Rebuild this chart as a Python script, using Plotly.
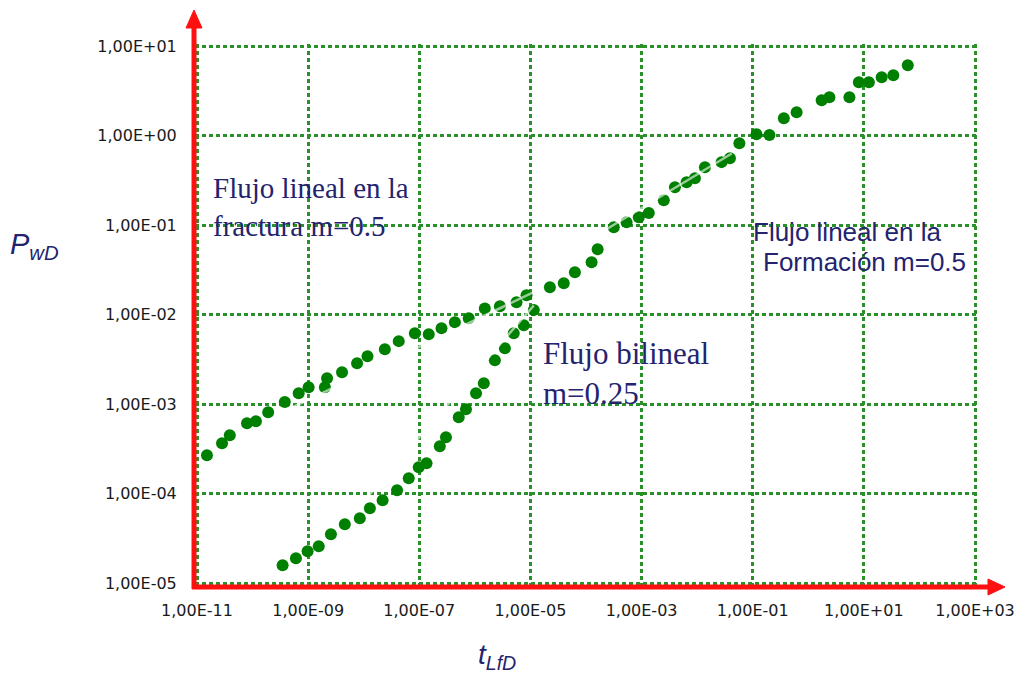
import plotly.graph_objects as go

# --- data -------------------------------------------------------------
# Linear flow in the fracture (early branch)
frac_t = [1.51e-11, 2.82e-11, 3.89e-11, 7.94e-11, 1.15e-10, 1.91e-10, 3.80e-10,
          6.76e-10, 1.02e-9, 2.00e-9, 2.19e-9, 4.07e-9, 7.59e-9, 1.17e-8, 2.40e-8,
          4.27e-8, 8.32e-8, 1.48e-7, 2.51e-7, 4.37e-7, 7.76e-7, 1.51e-6, 2.82e-6,
          5.62e-6, 8.51e-6]
frac_p = [2.68e-4, 3.65e-4, 4.48e-4, 6.10e-4, 6.43e-4, 8.09e-4, 1.05e-3,
          1.32e-3, 1.54e-3, 1.54e-3, 1.94e-3, 2.26e-3, 2.86e-3, 3.42e-3, 4.09e-3,
          5.04e-3, 6.18e-3, 6.03e-3, 7.03e-3, 8.20e-3, 9.08e-3, 1.17e-2, 1.24e-2,
          1.37e-2, 1.64e-2]

# Bilinear flow branch
bil_t = [3.47e-10, 6.03e-10, 9.77e-10, 1.55e-9, 2.57e-9, 4.57e-9, 8.51e-9,
         1.29e-8, 2.19e-8, 3.98e-8, 6.46e-8, 9.77e-8, 1.35e-7, 2.34e-7, 3.02e-7,
         5.13e-7, 6.92e-7, 1.05e-6, 1.45e-6, 2.29e-6, 3.47e-6, 5.01e-6, 7.59e-6,
         1.15e-5]
bil_p = [1.58e-5, 1.89e-5, 2.26e-5, 2.58e-5, 3.51e-5, 4.54e-5, 5.30e-5,
         6.85e-5, 8.41e-5, 1.09e-4, 1.48e-4, 1.97e-4, 2.18e-4, 3.37e-4, 4.26e-4,
         7.11e-4, 8.75e-4, 1.32e-3, 1.71e-3, 3.08e-3, 4.20e-3, 6.18e-3, 7.59e-3,
         1.12e-2]

# Linear flow in the formation (late branch)
form_t = [2.24e-5, 3.98e-5, 6.31e-5, 1.26e-4, 1.62e-4, 3.16e-4, 5.37e-4,
          8.91e-4, 1.35e-3, 2.51e-3, 3.98e-3, 6.46e-3, 9.12e-3, 1.38e-2, 2.75e-2,
          3.89e-2, 5.75e-2, 0.117, 0.200, 0.363, 0.617, 1.74, 2.40, 5.50, 8.13,
          12.3, 20.9, 33.9, 61.7]
form_p = [2.02e-2, 2.24e-2, 2.97e-2, 3.84e-2, 5.37e-2, 9.44e-2, 0.107,
          0.122, 0.136, 0.189, 0.264, 0.301, 0.333, 0.443, 0.504,
          0.557, 0.820, 1.03, 1.01, 1.56, 1.82, 2.48, 2.68, 2.68, 3.94,
          3.94, 4.48, 4.72, 6.10]

# Straight-line fits drawn over each flow regime
fit_frac_t = [2.75e-10, 1.07e-5]
fit_frac_p = [7.6e-4, 1.74e-2]
fit_bil_t = [9.3e-9, 1.15e-5]
fit_bil_p = [7.8e-5, 1.26e-2]
fit_form_t = [1.9e-4, 4.2e-2]
fit_form_p = [8.3e-2, 0.63]

x_ticks = [1e-11, 1e-9, 1e-7, 1e-5, 1e-3, 1e-1, 1e1, 1e3]
x_tick_labels = ["1,00E-11", "1,00E-09", "1,00E-07", "1,00E-05",
                 "1,00E-03", "1,00E-01", "1,00E+01", "1,00E+03"]
y_ticks = [1e-5, 1e-4, 1e-3, 1e-2, 1e-1, 1e0, 1e1]
y_tick_labels = ["1,00E-05", "1,00E-04", "1,00E-03", "1,00E-02",
                 "1,00E-01", "1,00E+00", "1,00E+01"]

# --- styling ----------------------------------------------------------
DOT = "#008000"
GRID = "#2a902a"
AXIS_RED = "#ff1010"
NAVY = "#23236e"
TICK_FONT = dict(family="DejaVu Sans", size=16, color="#1a1a1a")

fig = go.Figure()

for xs, ys in [(frac_t, frac_p), (bil_t, bil_p), (form_t, form_p)]:
    fig.add_trace(go.Scatter(
        x=xs, y=ys, mode="markers",
        marker=dict(size=12, color=DOT, line=dict(width=0)),
        showlegend=False, hoverinfo="skip"))

for xs, ys in [(fit_frac_t, fit_frac_p), (fit_bil_t, fit_bil_p), (fit_form_t, fit_form_p)]:
    fig.add_trace(go.Scatter(
        x=xs, y=ys, mode="lines",
        line=dict(color="rgba(255,255,255,0.6)", width=2.5),
        showlegend=False, hoverinfo="skip"))

# Plot area: 1e-11..1e3 spans x 197..975, 1e-5..1e1 spans y 583..46;
# a 2 px pad on every side keeps the edge gridlines inside the range.
W, H = 1015, 675
L, R, T, B = 195, 38, 44, 90
PW, PH = W - L - R, H - T - B
PAD_X = 2 / ((975 - 197) / 14)
PAD_Y = 2 / ((583 - 46) / 6)

axis_common = dict(
    type="log", showgrid=True, gridcolor=GRID, gridwidth=2.5, griddash="4px,3px",
    zeroline=False, showline=False, ticks="outside", automargin=False,
    tickcolor="rgba(0,0,0,0)", tickfont=TICK_FONT,
)

fig.update_layout(
    width=W, height=H,
    margin=dict(l=L, r=R, t=T, b=B, pad=0, autoexpand=False),
    paper_bgcolor="white", plot_bgcolor="white",
    xaxis=dict(range=[-11 - PAD_X, 3 + PAD_X], tickvals=x_ticks,
               ticktext=x_tick_labels, ticklen=11, **axis_common),
    yaxis=dict(range=[-5 - PAD_Y, 1 + PAD_Y], tickvals=y_ticks,
               ticktext=y_tick_labels, ticklen=14, **axis_common),
)

# Red axes with arrowheads (pixel offsets from the plot's lower-left corner)
def px_shape(path, **kw):
    return dict(type="path", xref="paper", yref="paper",
                xsizemode="pixel", ysizemode="pixel", xanchor=0, yanchor=0,
                path=path, layer="above", **kw)

fig.add_shape(px_shape("M -1,-4 L -1,560", line=dict(color=AXIS_RED, width=5)))
fig.add_shape(px_shape("M -9,557 L -1,575 L 7,557 Z",
                       line=dict(color=AXIS_RED, width=1), fillcolor=AXIS_RED))
fig.add_shape(px_shape("M -3,-2 L 796,-2", line=dict(color=AXIS_RED, width=5)))
fig.add_shape(px_shape("M 793,-10 L 810,-2 L 793,6 Z",
                       line=dict(color=AXIS_RED, width=1), fillcolor=AXIS_RED))

def ann(text, px, py, size, family, anchor="left", color=NAVY):
    fig.add_annotation(
        text=text, xref="paper", yref="paper",
        x=(px - L) / PW, y=(H - B - py) / PH,
        xanchor=anchor, yanchor="middle", showarrow=False,
        font=dict(family=family, size=size, color=color))

SERIF = "Liberation Serif"
SANS = "Liberation Sans"
ann("Flujo lineal en la", 211, 188, 29, SERIF)
ann("fractura m=0.5", 211, 226, 29, SERIF)
ann("Flujo bilineal", 541, 354, 31, SERIF)
ann("m=0.25", 541, 393, 31, SERIF)
ann("Flujo lineal en la", 751, 232, 26, SANS)
ann("Formación m=0.5", 761, 262, 26, SANS)
ann("<i>P<sub>wD</sub></i>", 8, 246, 29, SANS)
ann("<i>t<sub>LfD</sub></i>", 476, 656, 28, SANS)

fig.write_html("out.html")
